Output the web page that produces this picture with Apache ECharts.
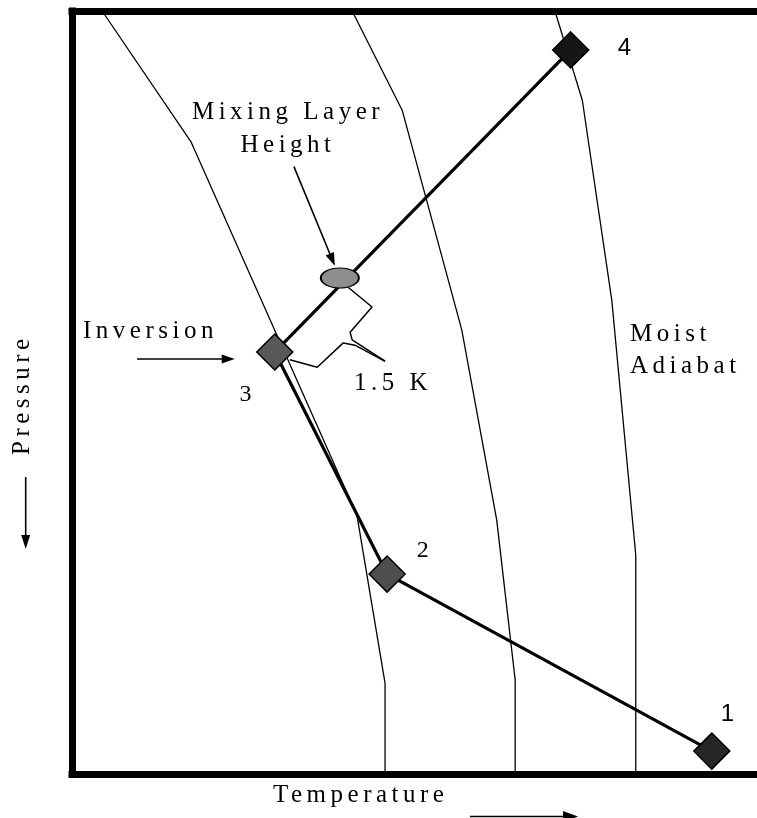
<!DOCTYPE html>
<html>
<head>
<meta charset="utf-8">
<script src="https://cdn.jsdelivr.net/npm/echarts/dist/echarts.min.js"></script>
<style>
html,body{margin:0;padding:0;background:#fff;}
#chart{width:757px;height:818px;}
</style>
</head>
<body>
<div id="chart"></div>
<script>
// Schematic units: temperature 0-100 (left→right), pressure 0-100 (top→bottom)
const adiabatA_T = [4.4, 17.4, 41.6, 45.7, 45.7];
const adiabatA_P = [0, 17.2, 66.1, 88.1, 100];
const adiabatB_T = [40.9, 48.2, 56.9, 62.0, 64.7, 64.7];
const adiabatB_P = [0, 13.0, 41.8, 66.7, 87.7, 100];
const moistAdiabat_T = [70.5, 74.5, 78.8, 82.3, 82.3];
const moistAdiabat_P = [0, 11.7, 37.9, 71.3, 100];

const profileLabels = ['1', '2', '3', '4'];
const profileT = [93.4, 46.0, 29.6, 72.8];
const profileP = [97.0, 73.8, 44.7, 5.1];

const mixingT = [39.1];
const mixingP = [35.0];

const bracketUpperT = [40.3, 43.8, 40.6, 40.9, 45.7];
const bracketUpperP = [36.2, 38.8, 42.1, 43.1, 45.9];
const bracketLowerT = [31.8, 35.8, 39.6, 41.3, 45.7];
const bracketLowerP = [45.7, 46.7, 43.5, 43.8, 45.9];

const mixArrowT = [32.4, 38.0];
const mixArrowP = [20.4, 32.6];
const invArrowT = [9.5, 22.8];
const invArrowP = [45.6, 45.6];

// letter-spaced text, as in the original figure
const _gc = HTMLCanvasElement.prototype.getContext;
HTMLCanvasElement.prototype.getContext = function (t, o) {
  const c = _gc.call(this, t, o);
  if (t === '2d' && c && 'letterSpacing' in c) c.letterSpacing = '4.5px';
  return c;
};

const zip = (a, b) => a.map((v, i) => [v, b[i]]);
const serif = '"Liberation Serif", "Times New Roman", serif';
const sans = '"Liberation Sans", Arial, sans-serif';
const F = '25px ';

const diamondColors = ['#262626', '#4e4e4e', '#585858', '#151515'];
const labelOffsets = [[18, -37], [38, -23], [-27, 43], [56, -2]];
const labelFonts = [sans, serif, serif, sans];

const chart = echarts.init(document.getElementById('chart'), null, {renderer: 'canvas'});

const thin = {color: '#000', width: 1.3};
const option = {
  animation: false,
  backgroundColor: '#fff',
  grid: {left: 72, right: 0, top: 11, bottom: 44},
  xAxis: [
    {type: 'value', min: 0, max: 100, position: 'bottom',
     axisLine: {show: true, onZero: false, lineStyle: {color: '#000', width: 7, cap: 'square'}},
     axisTick: {show: false}, axisLabel: {show: false}, splitLine: {show: false}},
    {type: 'value', min: 0, max: 100, position: 'top',
     axisLine: {show: true, onZero: false, lineStyle: {color: '#000', width: 7, cap: 'square'}},
     axisTick: {show: false}, axisLabel: {show: false}, splitLine: {show: false}}
  ],
  yAxis: {type: 'value', min: 0, max: 100, inverse: true,
    axisLine: {show: true, onZero: false, lineStyle: {color: '#000', width: 7, cap: 'square'}},
    axisTick: {show: false}, axisLabel: {show: false}, splitLine: {show: false}},
  series: [
    {type: 'line', data: zip(adiabatA_T, adiabatA_P), showSymbol: false, symbol: 'none', lineStyle: thin, z: 2, silent: true},
    {type: 'line', data: zip(adiabatB_T, adiabatB_P), showSymbol: false, symbol: 'none', lineStyle: thin, z: 2, silent: true},
    {type: 'line', data: zip(moistAdiabat_T, moistAdiabat_P), showSymbol: false, symbol: 'none', lineStyle: thin, z: 2, silent: true},
    {type: 'line', data: zip(bracketUpperT, bracketUpperP), showSymbol: false, symbol: 'none', lineStyle: {color: '#000', width: 1.5}, z: 3, silent: true},
    {type: 'line', data: zip(bracketLowerT, bracketLowerP), showSymbol: false, symbol: 'none', lineStyle: {color: '#000', width: 1.5}, z: 3, silent: true},
    {type: 'line', data: zip(profileT, profileP), showSymbol: false, symbol: 'none',
     lineStyle: {color: '#000', width: 3.2}, z: 4, silent: true,
     markLine: {
       silent: true, symbol: ['none', 'triangle'], symbolSize: [9, 13],
       label: {show: false}, lineStyle: {color: '#000', width: 1.6, type: 'solid'},
       data: [
         [{coord: [mixArrowT[0], mixArrowP[0]]}, {coord: [mixArrowT[1], mixArrowP[1]]}],
         [{coord: [invArrowT[0], invArrowP[0]]}, {coord: [invArrowT[1], invArrowP[1]]}]
       ]
     }},
    {type: 'scatter', z: 6, silent: true,
     data: profileLabels.map((n, i) => ({
       value: [profileT[i], profileP[i]],
       itemStyle: {color: diamondColors[i], borderColor: '#000', borderWidth: 1.5, opacity: 1},
       label: {show: true, formatter: n, position: 'inside', offset: labelOffsets[i],
               fontFamily: labelFonts[i], fontSize: 24, color: '#000'}
     })),
     symbol: 'diamond', symbolSize: 36},
    {type: 'scatter', z: 7, silent: true, data: zip(mixingT, mixingP),
     symbol: 'circle', symbolSize: [38, 20],
     itemStyle: {color: '#8e8e8e', borderColor: '#000', borderWidth: 1.5, opacity: 1}}
  ],
  graphic: [
    {type: 'text', x: 288, y: 112, style: {text: 'Mixing Layer', font: F + serif, fill: '#000', textAlign: 'center', textVerticalAlign: 'middle'}},
    {type: 'text', x: 288, y: 145, style: {text: 'Height', font: F + serif, fill: '#000', textAlign: 'center', textVerticalAlign: 'middle'}},
    {type: 'text', x: 83, y: 331, style: {text: 'Inversion', font: F + serif, fill: '#000', textAlign: 'left', textVerticalAlign: 'middle'}},
    {type: 'text', x: 354, y: 383, style: {text: '1.5 K', font: F + serif, fill: '#000', textAlign: 'left', textVerticalAlign: 'middle'}},
    {type: 'text', x: 630, y: 334, style: {text: 'Moist', font: F + serif, fill: '#000', textAlign: 'left', textVerticalAlign: 'middle'}},
    {type: 'text', x: 630, y: 366, style: {text: 'Adiabat', font: F + serif, fill: '#000', textAlign: 'left', textVerticalAlign: 'middle'}},
    {type: 'text', x: 273, y: 795, style: {text: 'Temperature', font: F + serif, fill: '#000', textAlign: 'left', textVerticalAlign: 'middle'}},
    {type: 'text', x: 22.5, y: 455, rotation: Math.PI / 2, style: {text: 'Pressure', font: F + serif, fill: '#000', textAlign: 'left', textVerticalAlign: 'middle'}},
    {type: 'line', shape: {x1: 25.7, y1: 477, x2: 25.7, y2: 538}, style: {stroke: '#000', lineWidth: 1.6}},
    {type: 'polygon', shape: {points: [[21.2, 535], [30.2, 535], [25.7, 549]]}, style: {fill: '#000'}},
    {type: 'line', shape: {x1: 470, y1: 816.5, x2: 566, y2: 816.5}, style: {stroke: '#000', lineWidth: 1.6}},
    {type: 'polygon', shape: {points: [[563, 811], [563, 822], [578, 816.5]]}, style: {fill: '#000'}}
  ]
};
chart.setOption(option);
</script>
</body>
</html>
